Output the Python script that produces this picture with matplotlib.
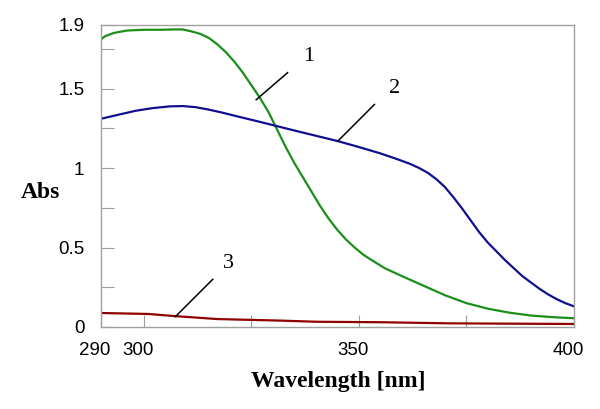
import numpy as np
import matplotlib.pyplot as plt
from matplotlib.transforms import ScaledTranslation

# curve 1 (green)
wl1 = [290, 291, 293, 296, 300, 304, 307, 309, 311, 313, 315, 317, 319, 321, 323, 325,
       327, 329, 331, 333, 335, 337, 339, 341, 343, 345, 347, 349, 351, 353, 356, 360,
       365, 370, 375, 380, 385, 390, 395, 400]
abs1 = [1.81, 1.83, 1.85, 1.865, 1.87, 1.87, 1.872, 1.872, 1.86, 1.845, 1.82, 1.78, 1.73, 1.67, 1.60, 1.52,
        1.44, 1.35, 1.24, 1.13, 1.03, 0.94, 0.85, 0.76, 0.68, 0.61, 0.55, 0.50, 0.455, 0.42, 0.37, 0.32,
        0.26, 0.20, 0.15, 0.115, 0.09, 0.072, 0.062, 0.055]

# curve 2 (blue)
wl2 = [290, 294, 298, 302, 306, 309, 312, 315, 318, 322, 326, 330, 335, 340, 345, 350,
       355, 359, 362, 364, 366, 368, 370, 372, 374, 376, 378, 380, 382, 384, 386, 388,
       390, 392, 394, 396, 398, 400]
abs2 = [1.31, 1.335, 1.36, 1.377, 1.388, 1.39, 1.383, 1.368, 1.35, 1.323, 1.297, 1.27, 1.236, 1.203, 1.17, 1.132,
        1.092, 1.055, 1.025, 1.0, 0.97, 0.93, 0.88, 0.815, 0.745, 0.67, 0.595, 0.53, 0.475, 0.42, 0.37, 0.32,
        0.28, 0.24, 0.205, 0.175, 0.15, 0.13]

# curve 3 (dark red)
wl3 = [290, 301, 307, 317, 332, 340, 355, 371, 385, 400]
abs3 = [0.088, 0.082, 0.069, 0.05, 0.04, 0.033, 0.03, 0.023, 0.021, 0.019]

# curve labels: (text, point on curve, end of leader, text position)
labels = [('1', (326.1, 1.43), (333.4, 1.60), (338.3, 1.70)),
          ('2', (345.1, 1.17), (353.6, 1.40), (358.2, 1.50)),
          ('3', (307.3, 0.065), (316.0, 0.30), (319.7, 0.40))]

xticks = [290, 300, 325, 350, 375, 400]
xticklabels = ['290', '300', '', '350', '', '400']
yticks = [0, 0.25, 0.5, 0.75, 1, 1.25, 1.5, 1.75, 1.9]
yticklabels = ['0', '', '0.5', '', '1', '', '1.5', '', '1.9']

fig = plt.figure(figsize=(6, 4.09), dpi=100)
ax = fig.add_axes([0.1683, 0.2005, 0.7883, 0.7384])

ax.plot(wl1, abs1, color='#1a8f1a', lw=1.6)
ax.plot(wl2, abs2, color='#10108f', lw=1.6)
ax.plot(wl3, abs3, color='#8f0000', lw=1.6)

for txt, p, e, t in labels:
    ax.plot([p[0], e[0]], [p[1], e[1]], color='black', lw=1.1)
    ax.text(t[0], t[1], txt, family='Liberation Serif', fontsize=16,
            ha='center', va='center')

ax.set_xlim(290, 400)
ax.set_ylim(0, 1.9)
ax.set_xticks(xticks)
ax.set_xticklabels(xticklabels)
ax.set_yticks(yticks)
ax.set_yticklabels(yticklabels)

for s in ax.spines.values():
    s.set_color('#a0a0a0')
    s.set_linewidth(1.0)
ax.tick_params(direction='in', length=9, width=0.8, color='#a0a0a0',
               labelsize=13.5)
ax.tick_params(axis='x', pad=11)
ax.tick_params(axis='y', pad=12)
for lab in ax.get_xticklabels() + ax.get_yticklabels():
    lab.set_family('Liberation Sans')
shift = ScaledTranslation(-6 / 100, 0, fig.dpi_scale_trans)
for lab in ax.get_xticklabels():
    lab.set_transform(lab.get_transform() + shift)

fig.text(40 / 600, 1 - 193 / 409, 'Abs', family='Liberation Serif', weight='bold',
         fontsize=17, ha='center', va='center')
fig.text(338 / 600, 1 - 382 / 409, 'Wavelength [nm]', family='Liberation Serif',
         weight='bold', fontsize=17, ha='center', va='center')

fig.savefig('out.png', dpi=100)
